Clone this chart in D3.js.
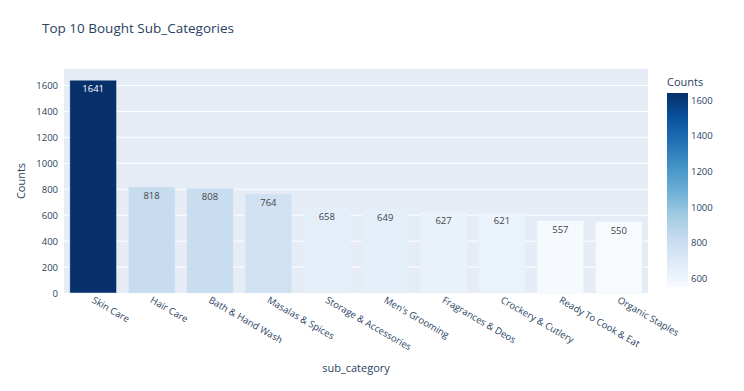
<!DOCTYPE html>
<html>
<head>
<meta charset="utf-8">
<script src="https://cdn.jsdelivr.net/npm/d3@7"></script>
<style>
  body { margin: 0; background: #fff; }
  svg text { font-family: "Open Sans", Verdana, sans-serif; fill: #2a3f5f; }
</style>
</head>
<body>
<svg id="chart" width="744" height="391"></svg>
<script>
// data
var categories = ["Skin Care", "Hair Care", "Bath & Hand Wash", "Masalas & Spices",
  "Storage & Accessories", "Men's Grooming", "Fragrances & Deos", "Crockery & Cutlery",
  "Ready To Cook & Eat", "Organic Staples"];
var counts = [1641, 818, 808, 764, 658, 649, 627, 621, 557, 550];
var yTicks = [0, 200, 400, 600, 800, 1000, 1200, 1400, 1600];
var barTicks = [600, 800, 1000, 1200, 1400, 1600];
var blues = ["#f7fbff", "#deebf7", "#c6dbef", "#9ecae1", "#6baed6", "#4292c6", "#2171b5", "#08519c", "#08306b"];

var svg = d3.select("#chart");
var pLeft = 64, pRight = 648, pTop = 69, pBottom = 293;
var font = "'Open Sans', Verdana, sans-serif";

var lo = d3.min(counts), hi = d3.max(counts);
var color = d3.scaleLinear()
  .domain(blues.map(function(d, i) { return lo + (hi - lo) * i / (blues.length - 1); }))
  .range(blues);

var x = d3.scaleBand().domain(categories).range([pLeft, pRight]).paddingInner(0.2).paddingOuter(0.1);
var y = d3.scaleLinear().domain([0, 1727]).range([pBottom, pTop]);

svg.append("rect").attr("x", pLeft).attr("y", pTop)
  .attr("width", pRight - pLeft).attr("height", pBottom - pTop).attr("fill", "#E5ECF6");

// grid
svg.append("g").selectAll("line").data(yTicks.slice(1)).enter().append("line")
  .attr("x1", pLeft).attr("x2", pRight)
  .attr("y1", function(d) { return y(d); }).attr("y2", function(d) { return y(d); })
  .attr("stroke", "#fff").attr("stroke-width", 1);

// bars
svg.append("g").selectAll("rect").data(counts).enter().append("rect")
  .attr("x", function(d, i) { return x(categories[i]); })
  .attr("width", x.bandwidth())
  .attr("y", function(d) { return y(d); })
  .attr("height", function(d) { return pBottom - y(d); })
  .attr("fill", function(d) { return color(d); })
  .attr("stroke", "#E5ECF6").attr("stroke-width", 0.5);

// value labels
svg.append("g").selectAll("text").data(counts).enter().append("text")
  .attr("x", function(d, i) { return x(categories[i]) + x.bandwidth() / 2; })
  .attr("y", function(d) { return y(d) + 12; })
  .attr("text-anchor", "middle")
  .style("font-size", "9.5px")
  .style("fill", function(d) { return d > 1100 ? "#fff" : "#444"; })
  .text(function(d) { return d; });

// y axis
var yAxis = svg.append("g").attr("transform", "translate(" + pLeft + ",0)")
  .call(d3.axisLeft(y).tickValues(yTicks).tickFormat(d3.format("d")).tickSize(0).tickPadding(6));
yAxis.select(".domain").remove();
yAxis.selectAll("text").style("font-size", "9.5px").style("fill", "#2a3f5f").style("font-family", font);

// x axis
var xAxis = svg.append("g").attr("transform", "translate(0," + pBottom + ")")
  .call(d3.axisBottom(x).tickSize(0).tickPadding(0));
xAxis.select(".domain").remove();
xAxis.selectAll("text")
  .style("font-size", "9.5px").style("fill", "#2a3f5f").style("font-family", font)
  .attr("text-anchor", "start")
  .attr("dy", null).attr("y", 0)
  .attr("transform", "translate(-2,9) rotate(30)");

svg.append("text").attr("x", 42).attr("y", 33)
  .style("font-size", "13.5px").text("Top 10 Bought Sub_Categories");
svg.append("text").attr("x", 356).attr("y", 372).attr("text-anchor", "middle")
  .style("font-size", "11px").text("sub_category");
svg.append("text").attr("transform", "translate(25,181) rotate(-90)").attr("text-anchor", "middle")
  .style("font-size", "11px").text("Counts");

// colorbar
var cbX = 667, cbW = 21, cbTop = 93, cbBot = 287;
var cy = d3.scaleLinear().domain([lo, hi]).range([cbBot, cbTop]);
var grad = svg.append("defs").append("linearGradient").attr("id", "cb")
  .attr("x1", 0).attr("x2", 0).attr("y1", 1).attr("y2", 0);
grad.selectAll("stop").data(blues).enter().append("stop")
  .attr("offset", function(d, i) { return i / (blues.length - 1); })
  .attr("stop-color", function(d) { return d; });
svg.append("rect").attr("x", cbX).attr("y", cbTop).attr("width", cbW)
  .attr("height", cbBot - cbTop).attr("fill", "url(#cb)");
var cAxis = svg.append("g").attr("transform", "translate(" + (cbX + cbW) + ",0)")
  .call(d3.axisRight(cy).tickValues(barTicks).tickFormat(d3.format("d")).tickSize(0).tickPadding(3));
cAxis.select(".domain").remove();
cAxis.selectAll("text").style("font-size", "9.5px").style("fill", "#2a3f5f").style("font-family", font);
svg.append("text").attr("x", cbX).attr("y", 86).style("font-size", "11px").text("Counts");
</script>
</body>
</html>
